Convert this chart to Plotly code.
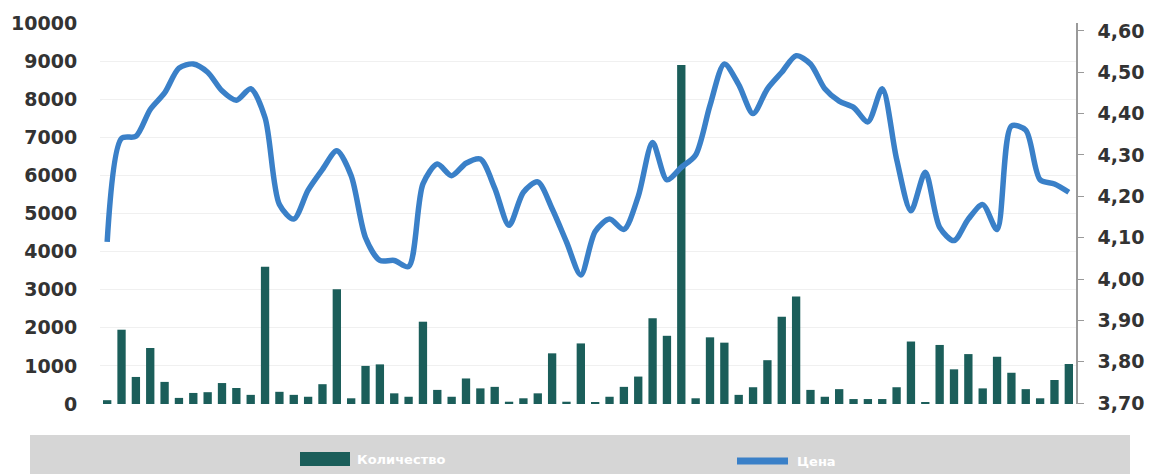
import plotly.graph_objects as go

# ---- data ----
days = list(range(1, 69))
volume = [100, 1950, 710, 1470, 580, 160, 290, 310, 550, 420,
          240, 3600, 320, 240, 190, 520, 3010, 150, 1000, 1040,
          280, 190, 2160, 370, 190, 670, 410, 450, 60, 150,
          280, 1330, 60, 1590, 40, 190, 450, 720, 2250, 1790,
          8900, 150, 1750, 1610, 240, 440, 1150, 2290, 2820, 370,
          190, 390, 130, 130, 130, 440, 1640, 40, 1550, 910,
          1310, 410, 1240, 820, 390, 150, 630, 1050]
price = [4.09, 4.34, 4.345, 4.41, 4.45, 4.51, 4.52, 4.50, 4.455, 4.432,
         4.46, 4.39, 4.18, 4.145, 4.215, 4.265, 4.31, 4.25, 4.10, 4.045,
         4.045, 4.03, 4.23, 4.278, 4.25, 4.28, 4.29, 4.22, 4.13, 4.21,
         4.235, 4.17, 4.09, 4.01, 4.115, 4.145, 4.12, 4.20, 4.33, 4.24,
         4.27, 4.30, 4.42, 4.52, 4.47, 4.40, 4.46, 4.50, 4.54, 4.52,
         4.46, 4.43, 4.415, 4.38, 4.46, 4.29, 4.165, 4.258, 4.125, 4.093,
         4.145, 4.18, 4.12, 4.37, 4.36, 4.24, 4.23, 4.21]
left_ticks = [0, 1000, 2000, 3000, 4000, 5000, 6000, 7000, 8000, 9000, 10000]
right_ticks = [3.70, 3.80, 3.90, 4.00, 4.10, 4.20, 4.30, 4.40, 4.50, 4.60]
series_names = ["Количество", "Цена"]

BAR = "#1b5e5a"
LINE = "#3a80c8"
TXT = "#333333"

# page offset of the figure (browser body margin)
OFF = 8

fig = go.Figure()
fig.add_trace(go.Bar(x=days, y=volume, name=series_names[0], marker_color=BAR,
                     marker_line_width=0, yaxis="y", showlegend=False))
fig.add_trace(go.Scatter(x=days, y=price, name=series_names[1], mode="lines",
                         line=dict(color=LINE, width=5.5, shape="spline", smoothing=0.8),
                         yaxis="y2", showlegend=False))

tickfont = dict(family="DejaVu Sans, sans-serif", size=19, color=TXT, weight="bold")

fig.update_layout(
    width=1156 - OFF, height=474 - OFF,
    margin=dict(l=100 - OFF, r=80, t=23 - OFF, b=70),
    paper_bgcolor="white", plot_bgcolor="white",
    separators=",.",
    bargap=0.42,
    xaxis=dict(range=[0.5, 68.5], showticklabels=False, showgrid=False, zeroline=False,
               showline=False, ticks=""),
    yaxis=dict(range=[0, 10000], tickvals=left_ticks, tickformat="d", tickfont=tickfont,
               showgrid=True, gridcolor="#f0f0f0", gridwidth=1, zeroline=False,
               ticks="outside", ticklen=18, tickcolor="rgba(0,0,0,0)", showline=False,
               automargin=False),
    yaxis2=dict(range=[3.698, 4.619], tickvals=right_ticks, tickformat=".2f",
                tickfont=tickfont, overlaying="y", side="right", showgrid=False,
                zeroline=False, showline=True, linecolor="#9a9a9a", linewidth=1.5,
                ticks="outside", ticklen=6, tickcolor="#9a9a9a", ticklabelstandoff=10,
                automargin=False),
)

# legend band (manual, below the plot); helpers take page pixel coordinates
def px_x(v):
    return (v - 100) / 976.0

def px_y(v):
    return -(v - 404) / 381.0

fig.add_shape(type="rect", xref="paper", yref="paper",
              x0=px_x(30), x1=px_x(1130), y0=px_y(480), y1=px_y(435),
              fillcolor="#d6d6d6", line_width=0, layer="below")
fig.add_shape(type="rect", xref="paper", yref="paper",
              x0=px_x(300), x1=px_x(350), y0=px_y(466), y1=px_y(452),
              fillcolor=BAR, line_width=0)
fig.add_shape(type="line", xref="paper", yref="paper",
              x0=px_x(737), x1=px_x(788), y0=px_y(461), y1=px_y(461),
              line=dict(color=LINE, width=7))
legfont = dict(family="DejaVu Sans, sans-serif", size=13, color="white", weight="bold")
fig.add_annotation(xref="paper", yref="paper", x=px_x(355), y=px_y(459), text=series_names[0],
                   showarrow=False, xanchor="left", yanchor="middle", font=legfont)
fig.add_annotation(xref="paper", yref="paper", x=px_x(795), y=px_y(461), text=series_names[1],
                   showarrow=False, xanchor="left", yanchor="middle", font=legfont)

fig.write_html("out.html")
